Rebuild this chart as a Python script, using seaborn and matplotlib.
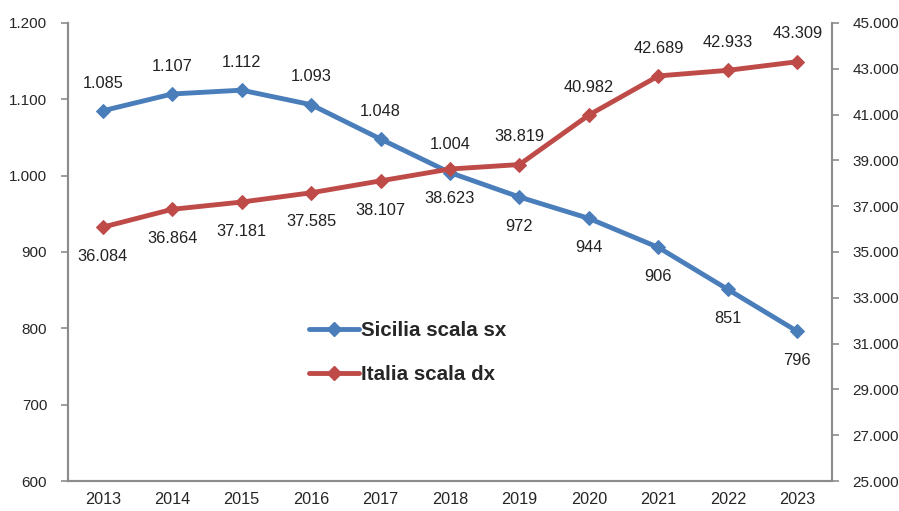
import matplotlib
matplotlib.use("Agg")
import matplotlib.pyplot as plt
import matplotlib.ticker as mticker
from matplotlib import font_manager as fm
from matplotlib.lines import Line2D
import seaborn as sns
import pandas as pd

years = [2013, 2014, 2015, 2016, 2017, 2018, 2019, 2020, 2021, 2022, 2023]
sicilia = [1085, 1107, 1112, 1093, 1048, 1004, 972, 944, 906, 851, 796]
italia = [36084, 36864, 37181, 37585, 38107, 38623, 38819, 40982, 42689, 42933, 43309]
sicilia_label_pos = ["a", "a", "a", "a", "a", "a", "b", "b", "b", "b", "b"]
italia_label_pos = ["b", "b", "b", "b", "b", "b", "a", "a", "a", "a", "a"]
left_ticks = [600, 700, 800, 900, 1000, 1100, 1200]
right_ticks = [25000, 27000, 29000, 31000, 33000, 35000, 37000, 39000, 41000, 43000, 45000]
series_names = ["Sicilia scala sx", "Italia scala dx"]

BLUE = "#4A7EBB"
RED = "#BE4B48"
GREY = "#8C8C8C"

sns.set_style("white")
plt.rcParams["font.family"] = ["Liberation Sans", "DejaVu Sans"]

installed = {f.name for f in fm.fontManager.ttflist}
if "Liberation Sans Narrow" in installed:
    leg_prop = {"family": ["Liberation Sans Narrow", "DejaVu Sans"], "weight": "bold", "size": 17.5}
else:
    leg_prop = {"family": ["Liberation Sans", "DejaVu Sans"], "weight": "bold", "size": 14.8}

df = pd.DataFrame({"anno": years, "Sicilia": sicilia, "Italia": italia})

fig = plt.figure(figsize=(8.99, 5.11), dpi=100)
ax = fig.add_axes([0.0756, 0.0587, 0.8499, 0.8963])
ax2 = ax.twinx()

LW = 3.5
MS = 7.5
sns.lineplot(data=df, x="anno", y="Sicilia", ax=ax, color=BLUE, linewidth=LW,
             marker="D", markersize=MS, markeredgecolor=BLUE)
sns.lineplot(data=df, x="anno", y="Italia", ax=ax2, color=RED, linewidth=LW,
             marker="D", markersize=MS, markeredgecolor=RED)


def fmt(v):
    return f"{v:,}".replace(",", ".")


for x, v, p in zip(years, sicilia, sicilia_label_pos):
    off = 20 if p == "a" else -21
    ax.annotate(fmt(v), (x, v), xytext=(0, off), textcoords="offset points",
                ha="center", va="center", fontsize=11.8, color="#222222")
for x, v, p in zip(years, italia, italia_label_pos):
    off = 20 if p == "a" else -21
    ax2.annotate(fmt(v), (x, v), xytext=(0, off), textcoords="offset points",
                 ha="center", va="center", fontsize=11.8, color="#222222")

ax.set_xlim(2012.5, 2023.5)
ax.set_ylim(600, 1200)
ax2.set_ylim(25000, 45000)
ax.set_yticks(left_ticks)
ax2.set_yticks(right_ticks)
ax.yaxis.set_major_formatter(mticker.FuncFormatter(lambda v, p: fmt(int(v))))
ax2.yaxis.set_major_formatter(mticker.FuncFormatter(lambda v, p: fmt(int(v))))

ax.set_xticks(years)
ax.set_xticklabels([str(y) for y in years])
ax.set_xticks([y + 0.5 for y in [2012] + years], minor=True)
ax.tick_params(axis="x", which="major", length=0, pad=8, labelsize=11.7)
ax.tick_params(axis="x", which="minor", length=5, width=1.2, color=GREY, direction="out")
ax.tick_params(axis="y", which="major", length=5, width=1.2, color=GREY, direction="out",
               left=True, labelsize=11, pad=10)
ax2.tick_params(axis="y", which="major", length=5, width=1.2, color=GREY, direction="out",
                right=True, labelsize=11, pad=9.5)

ax.set_xlabel("")
ax.set_ylabel("")
ax2.set_ylabel("")

for a in (ax, ax2):
    a.spines["top"].set_visible(False)
    for s in ("left", "right", "bottom"):
        a.spines[s].set_color(GREY)
        a.spines[s].set_linewidth(1.5)
ax.spines["right"].set_visible(False)

handles = [
    Line2D([], [], color=BLUE, linewidth=LW, marker="D", markersize=MS),
    Line2D([], [], color=RED, linewidth=LW, marker="D", markersize=MS),
]
fs = leg_prop["size"]
leg = ax2.legend(handles, series_names,
                 loc="center left", bbox_to_anchor=(0.315, 0.28), frameon=False,
                 handlelength=36.0 / fs, handletextpad=2.0 / fs, labelspacing=1.2,
                 borderaxespad=0, borderpad=0, prop=leg_prop)

fig.savefig("out.png", dpi=100)
